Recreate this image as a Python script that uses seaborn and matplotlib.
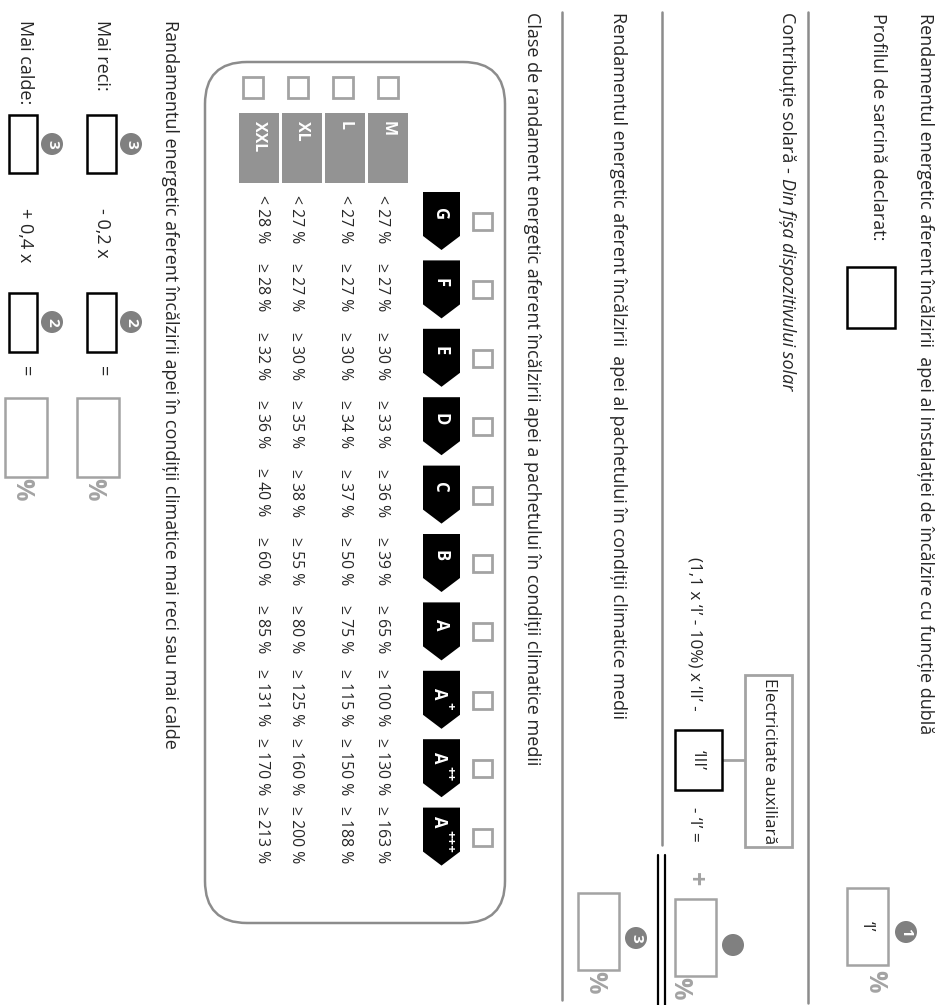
import numpy as np
import matplotlib
matplotlib.use("Agg")
import matplotlib.pyplot as plt
import seaborn as sns
from matplotlib.patches import Rectangle, Polygon, Circle, FancyBboxPatch

# ---------------- data ----------------
classes = ["G", "F", "E", "D", "C", "B", "A", "A+", "A++", "A+++"]
profiles = ["M", "L", "XL", "XXL"]
thr_M = [27, 27, 30, 33, 36, 39, 65, 100, 130, 163]
thr_L = [27, 27, 30, 34, 37, 50, 75, 115, 150, 188]
thr_XL = [27, 27, 30, 35, 38, 55, 80, 125, 160, 200]
thr_XXL = [28, 28, 32, 36, 40, 60, 85, 131, 170, 213]

title_top = "Rendamentul energetic aferent încălzirii  apei al instalației de încălzire cu funcție dublă"
profile_label = "Profilul de sarcină declarat:"
solar_label = "Contribuție solară - "
solar_italic = "Din fișa dispozitivului solar"
aux_label = "Electricitate auxiliară"
formula_a = "(1,1 x ‘I’ - 10%) x ‘II’ -"
formula_b = "- ‘I’ ="
box_I = "‘I’"
box_III = "‘III’"
package_label = "Rendamentul energetic aferent încălzirii  apei al pachetului în condiții climatice medii"
classes_label = "Clase de randament energetic aferent încălzirii apei a pachetului în condiții climatice medii"
climate_label = "Randamentul energetic aferent încălzirii apei în condiții climatice mai reci sau mai calde"
colder_label = "Mai reci:"
warmer_label = "Mai calde:"
colder_factor = "- 0,2 x"
warmer_factor = "+ 0,4 x"

# ---------------- style ----------------
sns.set_theme(style="white")
plt.rcParams['font.family'] = ['Open Sans', 'DejaVu Sans']
GRAY_LINE = "#8c8c8c"
GRAY_BOX = "#a3a3a3"
GRAY_FILL = "#939393"
GRAY_CIRCLE = "#808080"
TXT = 13
FORM = 12.3
PCT = 11.3

fig = plt.figure(figsize=(9.36, 10.05), dpi=100)
ax = fig.add_axes([0, 0, 1, 1])
ax.set_xlim(0, 936)
ax.set_ylim(1005, 0)
ax.axis("off")


def vtext(x, y, s, size=TXT, va="top", **kw):
    return ax.text(x, y, s, rotation=-90, ha="center", va=va, fontsize=size,
                   rotation_mode="default", **kw)


def box(x0, y0, x1, y1, ec="black", lw=1.8):
    ax.add_patch(Rectangle((x0, y0), x1 - x0, y1 - y0, fc="white", ec=ec, lw=lw, zorder=3))


def badge(x, y, s, r=11):
    ax.add_patch(Circle((x, y), r, fc=GRAY_CIRCLE, ec="none", zorder=4))
    vtext(x, y, s, size=11, va="center", color="white", fontweight="bold", zorder=5)


# ---------------- separators ----------------
ax.plot([808, 808], [12, 1003], color=GRAY_LINE, lw=1.8)
ax.plot([662, 662], [12, 845], color=GRAY_LINE, lw=1.8)
ax.plot([562, 562], [12, 1000], color=GRAY_LINE, lw=1.8)
ax.plot([658, 658], [855, 1005], color="black", lw=1.6)
ax.plot([664.5, 664.5], [855, 1005], color="black", lw=1.6)

# ---------------- top section ----------------
vtext(925, 13, title_top)
vtext(878, 13, profile_label)
box(847, 267, 895, 328)
box(847, 888, 888, 965, ec=GRAY_BOX)
vtext(867, 926, box_I, va="center", size=FORM)
badge(906, 932, "1")
vtext(875, 970, "%", size=18, color=GRAY_BOX, fontweight="bold")

# solar contribution
t1 = vtext(787, 12, solar_label)
fig.canvas.draw()
r = fig.canvas.get_renderer()
bb = t1.get_window_extent(r)
y_end = ax.transData.inverted().transform((0, bb.y0))[1]
vtext(787, y_end, solar_italic, style="italic")

ax.add_patch(Rectangle((745, 675), 47, 172, fc="white", ec=GRAY_BOX, lw=2.0, zorder=3))
vtext(769, 761, aux_label, va="center", size=FORM, zorder=4)
ax.plot([722, 745], [760, 760], color=GRAY_BOX, lw=2.0)
vtext(694, 557, formula_a, size=FORM)
box(675, 730, 722, 790)
vtext(698, 760, box_III, va="center", size=FORM, zorder=4)
vtext(694, 807, formula_b, size=FORM)
vtext(694, 872, "+", size=18, color=GRAY_BOX, fontweight="bold")
badge(733, 945, "")
box(675, 899, 716, 976, ec=GRAY_BOX)
vtext(680, 977, "%", size=18, color=GRAY_BOX, fontweight="bold")

# package section
vtext(618, 12, package_label)
box(578, 893, 619, 970, ec=GRAY_BOX)
badge(636, 938, "3")
vtext(595, 971, "%", size=18, color=GRAY_BOX, fontweight="bold")

# ---------------- class table ----------------
vtext(532, 12, classes_label)
ax.add_patch(FancyBboxPatch((205, 62), 300, 861,
                            boxstyle="round,pad=0,rounding_size=42",
                            fc="white", ec=GRAY_LINE, lw=1.8, zorder=1))

prof_x = {"M": 388, "L": 345, "XL": 302, "XXL": 259}
check_x = {"M": 388, "L": 343, "XL": 298, "XXL": 253}
text_x = {"M": 382, "L": 345, "XL": 296, "XXL": 262}
thr = {"M": thr_M, "L": thr_L, "XL": thr_XL, "XXL": thr_XXL}
for p in profiles:
    xc = prof_x[p]
    ax.add_patch(Rectangle((xc - 20, 113), 40, 70, fc=GRAY_FILL, ec="none", zorder=2))
    vtext(xc, 121, p, size=11.5, color="white", fontweight="bold", zorder=3)
    ax.add_patch(Rectangle((check_x[p] - 10, 77), 20, 21, fc="none", ec=GRAY_BOX,
                           lw=2.0, zorder=2))

y_start, y_step = 192, 68.4
ax_x0, ax_x1 = 423, 460
axc = (ax_x0 + ax_x1) / 2
for i, c in enumerate(classes):
    y0 = y_start + i * y_step
    ax.add_patch(Polygon([(ax_x0, y0), (ax_x1, y0), (ax_x1, y0 + 44), (axc, y0 + 58),
                          (ax_x0, y0 + 44)], closed=True, fc="black", ec="none", zorder=2))
    base = c[0]
    plus = c[1:]
    if not plus:
        vtext(axc - 1, y0 + 22, base, size=12, va="center", color="white",
              fontweight="bold", zorder=3)
    else:
        n = len(plus)
        ya = y0 + 23 - 4.5 * (n - 1)
        vtext(axc - 2, ya, base, size=12, va="center", color="white",
              fontweight="bold", zorder=3)
        vtext(axc + 8, ya + 8, plus, size=9.5, va="top", color="white",
              fontweight="bold", zorder=3)
    ax.add_patch(Rectangle((473, y0 + 21), 19, 17, fc="none", ec=GRAY_BOX, lw=2.0, zorder=2))
    for p in profiles:
        v = thr[p][i]
        s = f"< {v} %" if i == 0 else f"≥ {v} %"
        vtext(text_x[p], y0 + 27, s, size=PCT, va="center")

# ---------------- climate section ----------------
vtext(170, 20, climate_label)
for xt, xb0, xb1, lab, fac, gx0 in [(102, 87, 116, colder_label, colder_factor, 77),
                                     (25, 9, 37, warmer_label, warmer_factor, 5)]:
    vtext(xt, 20, lab)
    box(xb0, 115, xb1, 173)
    badge(xb1 + 15, 144, "3")
    vtext(xt, 208, fac)
    box(xb0, 293, xb1, 352)
    badge(xb1 + 15, 322, "2")
    vtext(xt, 366, "=")
    box(gx0, 398, gx0 + 42, 477, ec=GRAY_BOX)
    vtext(gx0 + 17, 478, "%", size=18, color=GRAY_BOX, fontweight="bold")

fig.savefig("out.png", dpi=100)
